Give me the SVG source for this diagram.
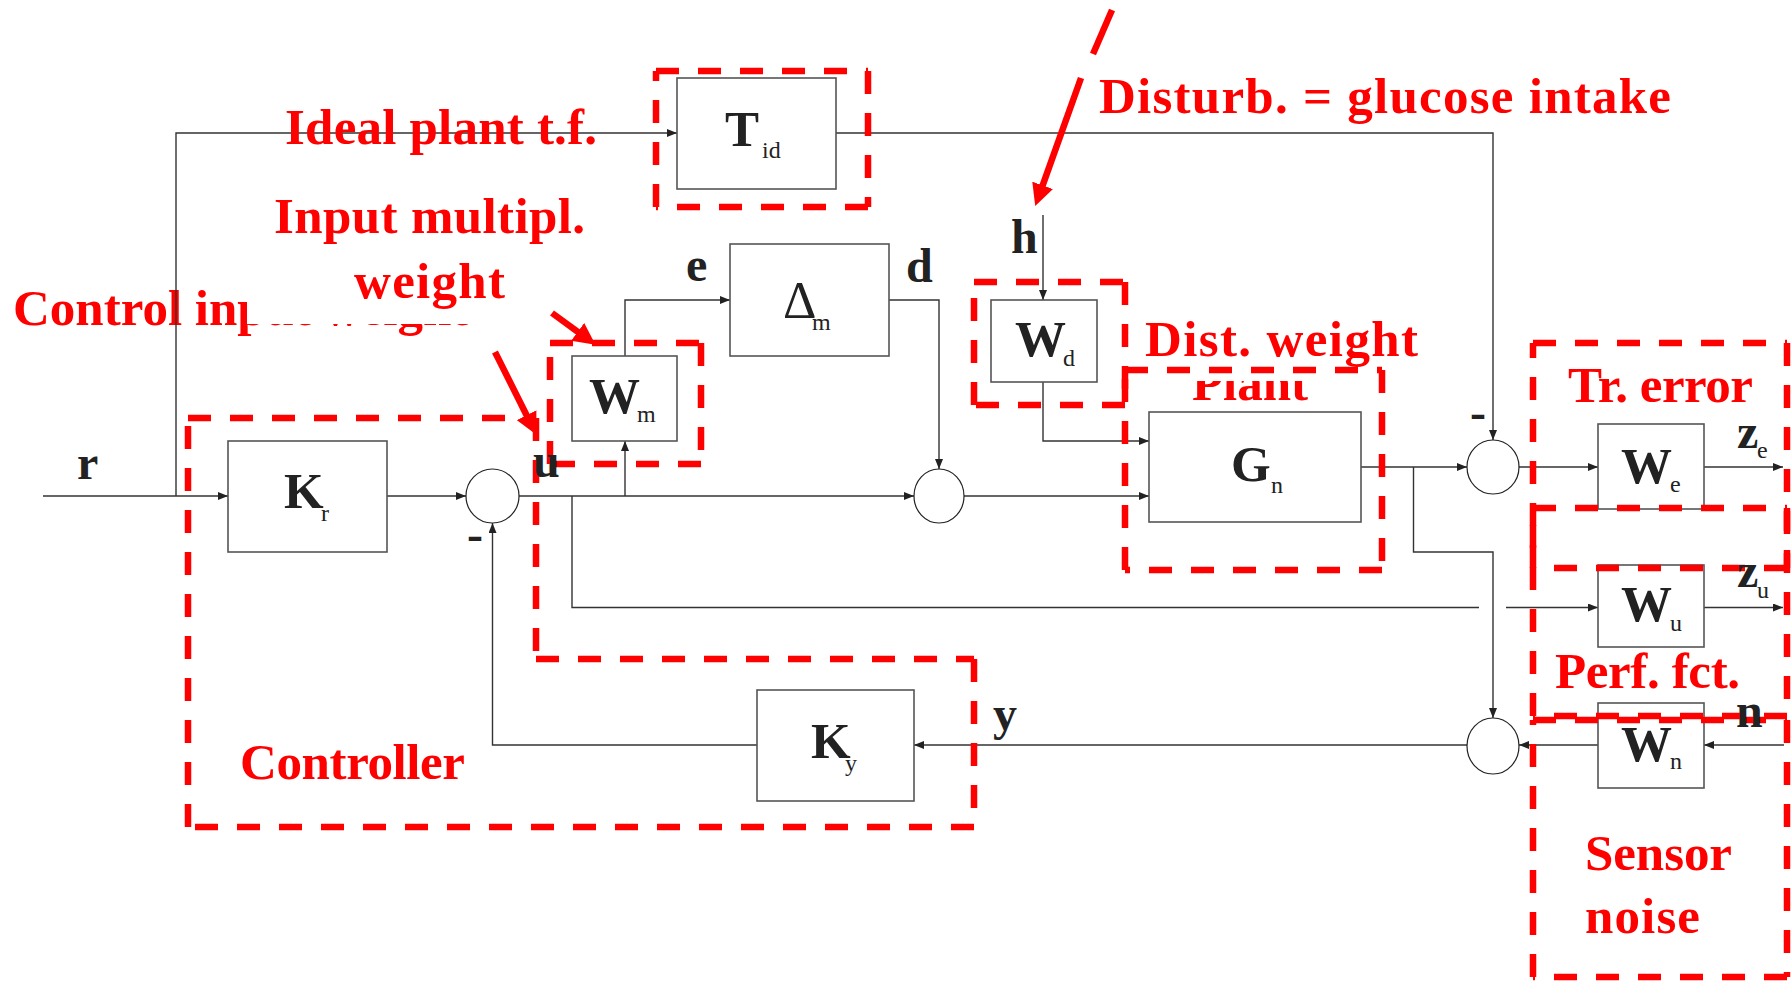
<svg xmlns="http://www.w3.org/2000/svg" width="1792" height="981" viewBox="0 0 1792 981">
<style>
.box{fill:#fff;stroke:#555;stroke-width:1.6}
.sum{fill:#fff;stroke:#222;stroke-width:1.2}
.ln{fill:none;stroke:#333;stroke-width:1.4}
.dash{fill:none;stroke:#f00;stroke-width:6.5;stroke-dasharray:23 19}
.rarrow{fill:none;stroke:#f00;stroke-width:6.5}
.rt{font-family:"Liberation Serif",serif;font-weight:bold;font-size:51px;fill:#f00}
.bt{font-family:"Liberation Serif",serif;font-weight:bold;font-size:48px;fill:#222}
.bl{font-family:"Liberation Serif",serif;font-weight:bold;font-size:51px;fill:#222}
.sub{font-family:"Liberation Serif",serif;font-size:24px;fill:#222}
.sym{font-family:"Liberation Serif",serif;font-size:52px;fill:#222}
.cover{fill:#fff}
</style>
<defs>
<marker id="ah" viewBox="0 0 10 8" refX="10" refY="4" markerWidth="11" markerHeight="8" markerUnits="userSpaceOnUse" orient="auto"><path d="M0,0 L10,4 L0,8 z" fill="#222"/></marker>
<marker id="rah" viewBox="0 0 22 22" refX="1" refY="11" markerWidth="22" markerHeight="22" markerUnits="userSpaceOnUse" orient="auto"><path d="M0,0 L22,11 L0,22 z" fill="#f00"/></marker>
</defs>

<!-- red labels that are partly hidden -->
<text class="rt" x="13" y="325">Control input weight</text>
<text class="rt" x="1192" y="400" textLength="116">Plant</text>

<g id="connectors">
<path class="ln" d="M43,496 H228" marker-end="url(#ah)"/>
<path class="ln" d="M176,496 V133 H677" marker-end="url(#ah)"/>
<path class="ln" d="M836,133 H1493 V440" marker-end="url(#ah)"/>
<path class="ln" d="M387,496 H466" marker-end="url(#ah)"/>
<path class="ln" d="M519,496 H914" marker-end="url(#ah)"/>
<path class="ln" d="M625,496 V441" marker-end="url(#ah)"/>
<path class="ln" d="M625,356 V300 H730" marker-end="url(#ah)"/>
<path class="ln" d="M889,300 H939 V469" marker-end="url(#ah)"/>
<path class="ln" d="M964,496 H1149" marker-end="url(#ah)"/>
<path class="ln" d="M1043,215 V300" marker-end="url(#ah)"/>
<path class="ln" d="M1043,382 V441 H1149" marker-end="url(#ah)"/>
<path class="ln" d="M1361,467 H1467" marker-end="url(#ah)"/>
<path class="ln" d="M1413.5,467 V552 H1493 V718" marker-end="url(#ah)"/>
<path class="ln" d="M1519,467 H1598" marker-end="url(#ah)"/>
<path class="ln" d="M1704,467 H1783" marker-end="url(#ah)"/>
<path class="ln" d="M572,496 V607.5 H1479"/>
<path class="ln" d="M1506,607.5 H1598" marker-end="url(#ah)"/>
<path class="ln" d="M1704,607.5 H1783" marker-end="url(#ah)"/>
<path class="ln" d="M1784,745 H1704" marker-end="url(#ah)"/>
<path class="ln" d="M1598,745 H1519" marker-end="url(#ah)"/>
<path class="ln" d="M1467,745 H914" marker-end="url(#ah)"/>
<path class="ln" d="M757,745 H492.5 V523" marker-end="url(#ah)"/>
</g>

<g id="Tid"><rect class="box" x="677" y="78" width="159" height="111"/><text class="bl" x="725" y="146">T</text><text class="sub" x="762" y="158">id</text></g>
<g id="Delta"><rect class="box" x="730" y="244" width="159" height="112"/><text class="sym" x="783" y="318">Δ</text><text class="sub" x="812" y="330">m</text></g>
<g id="Wm"><rect class="box" x="572" y="356" width="105" height="85"/><text class="bl" x="589" y="413">W</text><text class="sub" x="637" y="422">m</text></g>
<g id="Wd"><rect class="box" x="991" y="300" width="106" height="82"/><text class="bl" x="1015" y="356">W</text><text class="sub" x="1063" y="366">d</text></g>
<g id="Kr"><rect class="box" x="228" y="441" width="159" height="111"/><text class="bl" x="284" y="508">K</text><text class="sub" x="321" y="521">r</text></g>
<g id="Ky"><rect class="box" x="757" y="690" width="157" height="111"/><text class="bl" x="811" y="758">K</text><text class="sub" x="845" y="771">y</text></g>
<g id="Gn"><rect class="box" x="1149" y="412" width="212" height="110"/><text class="bl" x="1231" y="481">G</text><text class="sub" x="1271" y="493">n</text></g>
<g id="We"><rect class="box" x="1598" y="424" width="106" height="85"/><text class="bl" x="1621" y="483">W</text><text class="sub" x="1670" y="492">e</text></g>
<g id="Wu"><rect class="box" x="1598" y="565" width="106" height="82"/><text class="bl" x="1621" y="621">W</text><text class="sub" x="1670" y="631">u</text></g>
<g id="Wn"><rect class="box" x="1598" y="703" width="106" height="85"/><text class="bl" x="1621" y="761">W</text><text class="sub" x="1670" y="769">n</text></g>

<g id="sum1"><ellipse class="sum" cx="492.5" cy="496" rx="26.5" ry="27"/></g>
<g id="sum2"><ellipse class="sum" cx="939" cy="496" rx="25" ry="27"/></g>
<g id="sum3"><ellipse class="sum" cx="1493" cy="467" rx="26" ry="27"/></g>
<g id="sum4"><ellipse class="sum" cx="1493" cy="746" rx="26" ry="28"/></g>

<!-- white label backgrounds -->
<rect class="cover" x="247" y="190" width="283" height="134"/>
<rect class="cover" x="1130" y="300" width="290" height="81"/>

<g id="regions">
<path id="r-tid" class="dash" d="M656,71 H868 M868,71 V207 M868,207 H656 M656,207 V71"/>
<path id="r-controller" class="dash" d="M188,418 H536 M536,418 V659 M536,659 H974 M974,659 V827 M974,827 H188 M188,827 V418"/>
<path id="r-wm" class="dash" d="M550,343 H701 M701,343 V464 M701,464 H550 M550,464 V343"/>
<path id="r-wd" class="dash" d="M974,282 H1125 M1125,282 V405 M1125,405 H974 M974,405 V282"/>
<path id="r-plant" class="dash" d="M1125,370 H1382 M1382,370 V570 M1382,570 H1125 M1125,570 V370"/>
<path id="r-tr" class="dash" d="M1533,343 H1787 M1787,343 V568 M1787,568 H1533 M1533,568 V343"/>
<path id="r-perf" class="dash" d="M1533,508 H1787 M1787,508 V716 M1787,716 H1533 M1533,716 V508"/>
<path id="r-sensor" class="dash" d="M1533,720 H1787 M1787,720 V977 M1787,977 H1533 M1533,977 V720"/>
</g>

<g id="red-arrows">
<line class="rarrow" x1="1112" y1="10" x2="1093" y2="54"/>
<line class="rarrow" x1="1081" y1="78" x2="1042.3" y2="186.3" marker-end="url(#rah)"/>
<line class="rarrow" x1="552" y1="313" x2="578.5" y2="332.4" marker-end="url(#rah)"/>
<line class="rarrow" x1="495" y1="352" x2="527" y2="416" marker-end="url(#rah)"/>
</g>

<g id="red-labels">
<text class="rt" x="285" y="144" textLength="312">Ideal plant t.f.</text>
<text class="rt" x="274" y="233" textLength="311">Input multipl.</text>
<text class="rt" x="354" y="298" textLength="151">weight</text>
<text class="rt" x="1099" y="113" textLength="572">Disturb. = glucose intake</text>
<text class="rt" x="1145" y="356" textLength="273">Dist. weight</text>
<text class="rt" x="1568" y="402" textLength="185">Tr. error</text>
<text class="rt" x="1555" y="688" textLength="185">Perf. fct.</text>
<text class="rt" x="1585" y="870" textLength="147">Sensor</text>
<text class="rt" x="1585" y="933" textLength="115">noise</text>
<text class="rt" x="240" y="779" textLength="225">Controller</text>
</g>

<g id="signals">
<text class="bt" x="77" y="479">r</text>
<text class="bt" x="533" y="477">u</text>
<text class="bt" x="686" y="281">e</text>
<text class="bt" x="906" y="282">d</text>
<text class="bt" x="1011" y="253">h</text>
<text class="bt" x="993" y="730">y</text>
<text class="bt" x="1736" y="727">n</text>
<text class="bt" x="1737" y="448">z</text><text class="sub" x="1757" y="458">e</text>
<text class="bt" x="1737" y="587">z</text><text class="sub" x="1757" y="598">u</text>
<text class="bt" x="475" y="550" text-anchor="middle">-</text>
<text class="bt" x="1478" y="428" text-anchor="middle">-</text>
</g>
</svg>
